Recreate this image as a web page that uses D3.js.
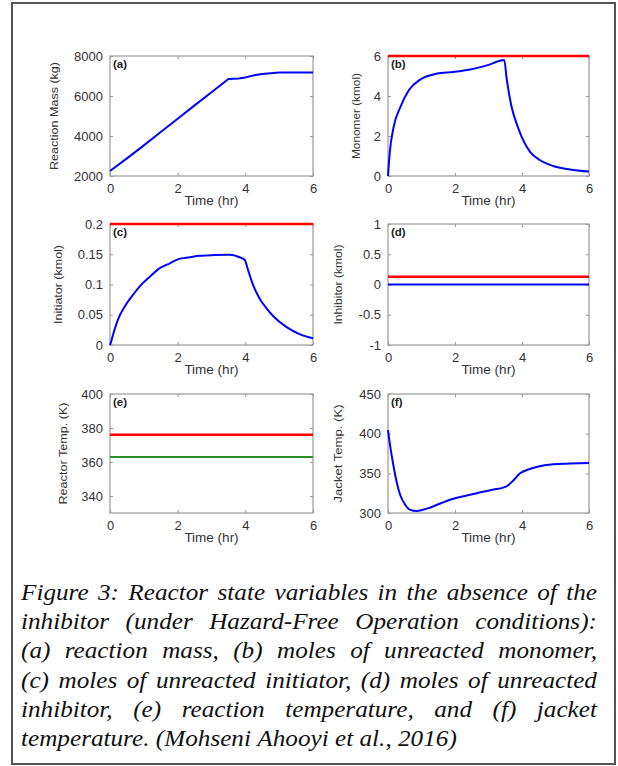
<!DOCTYPE html>
<html>
<head>
<meta charset="utf-8">
<script src="https://cdn.jsdelivr.net/npm/d3@7"></script>
<style>
body { margin: 0; background: #fff; }
svg { display: block; }
.tick text { font-family: "Liberation Sans", Arial, sans-serif; font-size: 13px; fill: #333; }
</style>
</head>
<body>
<div id="fig"></div>
<script>
// time axis (hr)
var timeDomain = [0, 6];
var timeTicks = [0, 2, 4, 6];

// (a) reaction mass, kg
var massPts = [[0, 2250], [0.5, 2880], [1, 3530], [1.5, 4200], [2, 4860], [2.5, 5530],
    [3, 6190], [3.5, 6850], [3.8, 6870], [4, 6930], [4.3, 7050], [4.5, 7100], [5, 7170], [6, 7180]];
var massTicks = [2000, 4000, 6000, 8000];

// (b) monomer, kmol
var monomerPts = [[0, 0], [0.05, 1.13], [0.17, 2.46], [0.37, 3.45], [0.62, 4.29], [0.96, 4.82],
    [1.46, 5.12], [1.95, 5.2], [2.45, 5.32], [2.95, 5.53], [3.47, 5.8], [3.54, 4.9], [3.69, 3.45],
    [3.84, 2.62], [3.99, 1.96], [4.24, 1.21], [4.53, 0.8], [4.93, 0.5], [5.43, 0.33], [6, 0.22]];
var monomerLimit = 6;
var monomerTicks = [0, 2, 4, 6];

// (c) initiator, kmol
var initiatorPts = [[0, 0], [0.02, 0.003], [0.1, 0.019], [0.25, 0.044], [0.44, 0.064], [0.64, 0.08],
    [0.88, 0.097], [1.18, 0.113], [1.47, 0.127], [1.77, 0.135], [2.02, 0.142], [2.36, 0.145],
    [2.65, 0.1475], [3.05, 0.1486], [3.54, 0.149], [3.83, 0.145], [3.98, 0.141], [4.08, 0.124],
    [4.23, 0.099], [4.42, 0.077], [4.62, 0.061], [4.82, 0.048], [5.21, 0.03], [5.6, 0.018], [6, 0.011]];
var initiatorLimit = 0.2;
var initiatorTicks = [0, 0.05, 0.1, 0.15, 0.2];

// (d) inhibitor, kmol
var inhibitorLevel = 0;
var inhibitorLimit = 0.13;
var inhibitorTicks = [-1, -0.5, 0, 0.5, 1];

// (e) reactor temperature, K
var reactorLimit = 376;
var reactorSet = 363;
var reactorTicks = [340, 360, 380, 400];

// (f) jacket temperature, K
var jacketPts = [[0, 404.5], [0.07, 383], [0.17, 358], [0.27, 337], [0.37, 322], [0.52, 310],
    [0.66, 304], [0.86, 302.5], [1.16, 305.5], [1.56, 312], [1.95, 318], [2.35, 322], [2.65, 325],
    [3.15, 329.5], [3.44, 332], [3.54, 333.7], [3.74, 341], [3.94, 350], [4.19, 354.8], [4.43, 358],
    [4.93, 361.5], [5.43, 362.3], [6, 363]];
var jacketTicks = [300, 350, 400, 450];

var captionLines = [
    "Figure 3:  Reactor state variables in the absence of the",
    "inhibitor (under Hazard-Free Operation conditions):",
    "(a) reaction mass, (b) moles of unreacted monomer,",
    "(c) moles of unreacted initiator, (d) moles of unreacted",
    "inhibitor, (e) reaction temperature, and (f) jacket",
    "temperature. (Mohseni Ahooyi et al., 2016)"
];

function flat(v) {
    return timeDomain.map(function (t) { return [t, v]; });
}

function init() {
    var width = 618, height = 766;
    var BLUE = "#0000ff", RED = "#ff0000", GREEN = "#2a8c2a";
    var SANS = "'Liberation Sans', Arial, sans-serif";

    var svg = d3.select("#fig").append("svg")
        .attr("width", width)
        .attr("height", height);

    svg.append("rect").attr("width", width).attr("height", height).attr("fill", "#fff");

    // frame around the figure
    svg.append("rect")
        .attr("x", 12).attr("y", 3)
        .attr("width", 603).attr("height", 761)
        .attr("fill", "none")
        .attr("stroke", "#555")
        .attr("stroke-width", 2);

    var cols = [{ x: 110, w: 203 }, { x: 388, w: 201 }];
    var rows = [{ y: 56, h: 120 }, { y: 224, h: 121 }, { y: 394, h: 119 }];

    var panels = [
        { tag: "(a)", label: "Reaction Mass (kg)", labelLen: 108, labelX: 58, domain: [2000, 8000], ticks: massTicks,
          series: [{ pts: massPts, color: BLUE, w: 2, sharp: true }] },
        { tag: "(b)", label: "Monomer (kmol)", labelLen: 86, labelX: 360, domain: [0, 6], ticks: monomerTicks,
          series: [{ pts: flat(monomerLimit), color: RED, w: 2.5 }, { pts: monomerPts, color: BLUE, w: 2 }] },
        { tag: "(c)", label: "Initiator (kmol)", labelLen: 79, labelX: 62, domain: [0, 0.2], ticks: initiatorTicks,
          series: [{ pts: flat(initiatorLimit), color: RED, w: 2.5 }, { pts: initiatorPts, color: BLUE, w: 2 }] },
        { tag: "(d)", label: "Inhibitor (kmol)", labelLen: 80, labelX: 342, domain: [-1, 1], ticks: inhibitorTicks,
          series: [{ pts: flat(inhibitorLimit), color: RED, w: 2.5 }, { pts: flat(inhibitorLevel), color: BLUE, w: 2 }] },
        { tag: "(e)", label: "Reactor Temp. (K)", labelLen: 102, labelX: 67, domain: [330, 400], ticks: reactorTicks,
          series: [{ pts: flat(reactorLimit), color: RED, w: 2.5 }, { pts: flat(reactorSet), color: GREEN, w: 2 }] },
        { tag: "(f)", label: "Jacket Temp. (K)", labelLen: 98, labelX: 342, domain: [300, 450], ticks: jacketTicks,
          series: [{ pts: jacketPts, color: BLUE, w: 2 }] }
    ];

    panels.forEach(function (p, i) {
        var c = cols[i % 2], r = rows[Math.floor(i / 2)];
        var x = d3.scaleLinear().domain(timeDomain).range([0, c.w]);
        var y = d3.scaleLinear().domain(p.domain).range([r.h, 0]);

        var g = svg.append("g").attr("transform", "translate(" + c.x + "," + r.y + ")");

        // box
        g.append("rect")
            .attr("width", c.w).attr("height", r.h)
            .attr("fill", "#fff")
            .attr("stroke", "#9a9a9a")
            .attr("stroke-width", 1.2);

        // inward ticks on all four sides, MATLAB style
        var axB = g.append("g").attr("transform", "translate(0," + r.h + ")")
            .call(d3.axisBottom(x).tickValues(timeTicks).tickSize(-3).tickPadding(5).tickFormat(d3.format("d")));
        var axT = g.append("g")
            .call(d3.axisTop(x).tickValues(timeTicks).tickSize(-3).tickFormat(""));
        var axL = g.append("g")
            .call(d3.axisLeft(y).tickValues(p.ticks).tickSize(-3).tickPadding(7).tickFormat(function (d) { return String(d); }));
        var axR = g.append("g").attr("transform", "translate(" + c.w + ",0)")
            .call(d3.axisRight(y).tickValues(p.ticks).tickSize(-3).tickFormat(""));
        [axB, axT, axL, axR].forEach(function (a) {
            a.select(".domain").remove();
            a.selectAll(".tick line").attr("stroke", "#9a9a9a");
        });
        axB.selectAll(".tick text").attr("dy", "0.9em");

        // curves
        p.series.forEach(function (s) {
            var line = d3.line()
                .x(function (d) { return x(d[0]); })
                .y(function (d) { return y(d[1]); })
                .curve(s.sharp ? d3.curveLinear : d3.curveMonotoneX);
            g.append("path")
                .datum(s.pts)
                .attr("fill", "none")
                .attr("stroke", s.color)
                .attr("stroke-width", s.w)
                .attr("stroke-linejoin", "round")
                .attr("d", line);
        });

        // panel tag
        g.append("text")
            .attr("x", 3).attr("y", 12)
            .attr("font-family", SANS)
            .attr("font-size", 11.5)
            .attr("font-weight", "bold")
            .attr("fill", "#222")
            .text(p.tag);

        // x label
        g.append("text")
            .attr("x", c.w / 2).attr("y", r.h + 29)
            .attr("text-anchor", "middle")
            .attr("font-family", SANS)
            .attr("font-size", 13.5)
            .attr("fill", "#333")
            .text("Time (hr)");

        // y label (squeezed, as in the source)
        svg.append("text")
            .attr("transform", "translate(" + p.labelX + "," + (r.y + r.h / 2) + ") rotate(-90)")
            .attr("text-anchor", "middle")
            .attr("font-family", SANS)
            .attr("font-size", 11)
            .attr("fill", "#333")
            .attr("textLength", p.labelLen)
            .attr("lengthAdjust", "spacingAndGlyphs")
            .text(p.label);
    });

    // caption, justified
    svg.append("clipPath").attr("id", "capclip")
        .append("rect").attr("x", 14).attr("y", 560).attr("width", 600).attr("height", 191);

    var cap = svg.append("g").attr("clip-path", "url(#capclip)")
        .attr("font-family", "'Liberation Serif', 'Times New Roman', serif")
        .attr("font-style", "italic")
        .attr("font-size", 24)
        .attr("fill", "#111");

    var left = 21, W = 576, minGap = 3;
    captionLines.forEach(function (txt, i) {
        var yy = 600 + i * 29.2;
        var words = txt.split(/\s+/);
        var t = cap.append("text");
        var spans = words.map(function (w) {
            return t.append("tspan").text(w);
        });
        var widths = spans.map(function (s) { return s.node().getComputedTextLength(); });
        var total = d3.sum(widths);
        var last = i === captionLines.length - 1;
        var sx = 1.05;
        if ((total + (words.length - 1) * minGap) * sx > W) sx = W / (total + (words.length - 1) * minGap);
        var gap = last ? 6 : (W / sx - total) / (words.length - 1);
        t.attr("transform", "translate(" + left + "," + yy + ") scale(" + sx + ",1)");
        var xx = 0;
        spans.forEach(function (s, k) {
            s.attr("x", xx);
            xx += widths[k] + gap;
        });
    });
}

window.onload = init;
</script>
</body>
</html>
